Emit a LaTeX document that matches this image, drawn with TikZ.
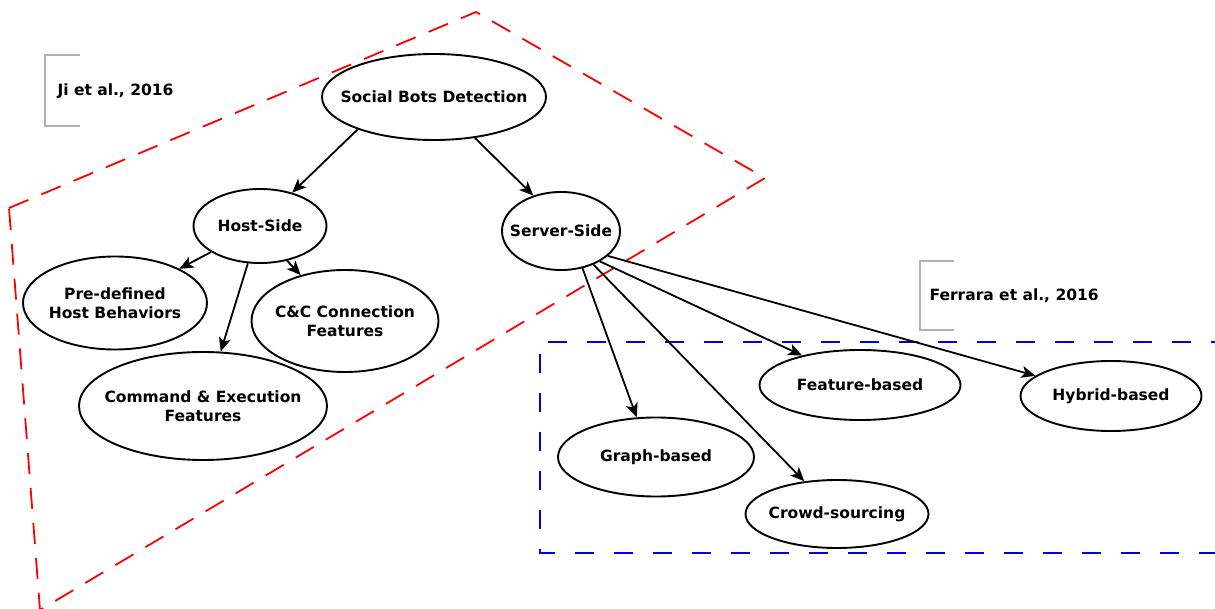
\documentclass[tikz,border=0pt]{standalone}
\usepackage{fontspec}
\setmainfont{DejaVu Sans}
\usetikzlibrary{arrows.meta,shapes.geometric}
\begin{document}
\begin{tikzpicture}[x=1pt,y=-1pt,
  every node/.style={font=\fontsize{15.5}{19.5}\selectfont\bfseries, align=center},
  oval/.style={ellipse, draw=black, line width=1.9pt, inner sep=0pt},
  arr/.style={line width=1.8pt, -{Stealth[length=14pt,width=12pt,inset=3.5pt]}},
  redzone/.style={draw=red, line width=1.8pt, dash pattern=on 21pt off 14pt},
  bluezone/.style={draw=blue!90!black, line width=2.1pt, dash pattern=on 19pt off 20pt},
  cite/.style={draw=black!30, line width=1.1pt}]
\useasboundingbox (0,0) rectangle (1215,609);

% group outlines
\draw[redzone] (9,208) -- (476,12) -- (765,178) -- (40,610) -- cycle;
\draw[bluezone] (1230,342) -- (540,342) -- (540,553) -- (1230,553);

% reference brackets
\draw[cite] (80,55) -- (45,55) -- (45,126) -- (80,126);
\node[anchor=west] (ji) at (54,91) {Ji et al., 2016};
\draw[cite] (954,261) -- (920,261) -- (920,330) -- (954,330);
\node[anchor=west] (fe) at (926,296) {Ferrara et al., 2016};

% tree nodes: outlines
\node[oval, minimum width=224pt, minimum height=86pt] (sbd) at (434,97) {};
\node[oval, minimum width=133pt, minimum height=74pt] (host) at (260,226) {};
\node[oval, minimum width=118pt, minimum height=78pt] (server) at (561,231) {};
\node[oval, minimum width=184pt, minimum height=93pt] (pre) at (115,303) {};
\node[oval, minimum width=187pt, minimum height=102pt] (cc) at (345,321) {};
\node[oval, minimum width=248pt, minimum height=108pt] (cmd) at (203,406) {};
\node[oval, minimum width=196pt, minimum height=79pt] (graph) at (656,457) {};
\node[oval, minimum width=183pt, minimum height=68pt] (crowd) at (837,514) {};
\node[oval, minimum width=201pt, minimum height=70pt] (feat) at (860,385) {};
\node[oval, minimum width=181pt, minimum height=70pt] (hyb) at (1111,396) {};

% tree nodes: labels
\node (sbdt) at (sbd) {Social Bots Detection};
\node (hostt) at (host) {Host-Side};
\node (servert) at (server) {Server-Side};
\node (pret) at (pre) {Pre-defined\\Host Behaviors};
\node (cct) at (cc) {C\&C Connection\\Features};
\node (cmdt) at (cmd) {Command \& Execution\\Features};
\node (grapht) at (graph) {Graph-based};
\node (crowdt) at (crowd) {Crowd-sourcing};
\node (featt) at (feat) {Feature-based};
\node (hybt) at (hyb) {Hybrid-based};

% connectors
\draw[arr] (sbd.203) -- (host.46);
\draw[arr] (sbd.-45) -- (server.128);
\draw[arr] (host.208) -- (pre.28);
\draw[arr] (host.252) -- (cmd.72);
\draw[arr] (host.-52) -- (cc.134);
\draw[arr] (server.-60) -- (graph.116);
\draw[arr] (server.-46) -- (crowd.135);
\draw[arr] (server.-38) -- (feat.153);
\draw[arr] (server.-28) -- (hyb.165);
\end{tikzpicture}
\end{document}
